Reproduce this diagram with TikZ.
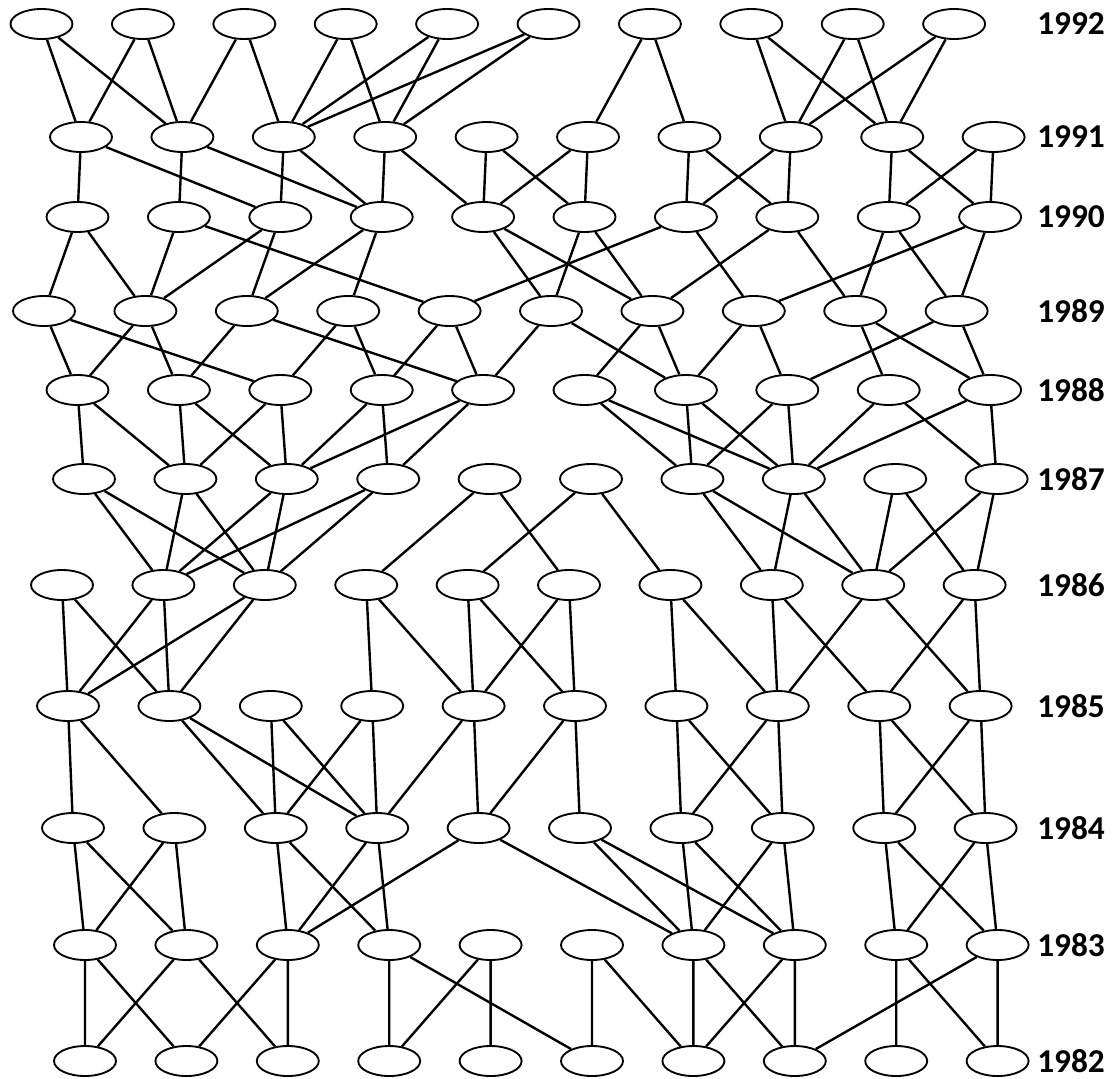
\documentclass[tikz,border=0pt]{standalone}
\usepackage{fontspec}
\setmainfont{Carlito}
\usepackage{tikz}
\usetikzlibrary{shapes.geometric}

\begin{document}
\begin{tikzpicture}[
        x=0.75pt, y=-0.75pt,
        person/.style={ellipse, draw=black, line width=1.4pt, fill=white, inner sep=0pt, minimum width=46.5pt, minimum height=22.5pt},
        yearlabel/.style={anchor=west, inner sep=0pt, font=\fontsize{25}{30}\selectfont\bfseries},
        link/.style={draw=black, line width=1.8pt}
    ]
        \useasboundingbox (0,0) rectangle (1113,1078);

        % ten per year: year / y / x of the first one
        \foreach \yr/\yy/\xo in {92/24/41.5, 91/137/81, 90/217/77.5, 89/311/44, 88/390/77.5, 87/479/84,
                86/585/62, 85/706/68, 84/828/73, 83/945/85, 82/1061/85} {
            \foreach \i in {1,...,10}
                \node[person] (n\yr-\i) at ({\xo+(\i-1)*101.4}, \yy) {};
            \node[yearlabel] (y\yr) at (1037, \yy) {19\yr};
        }

        % node / its two parents one year below
        \foreach \a/\b/\c in {1/1/2, 2/1/2, 3/2/3, 4/3/4, 5/3/4, 6/3/4, 7/6/7, 8/8/9, 9/8/9, 10/8/9}
            \draw[link] (n92-\a) -- (n91-\b) (n92-\a) -- (n91-\c);
        \foreach \a/\b/\c in {1/1/3, 2/2/4, 3/3/4, 4/4/5, 5/5/6, 6/5/6, 7/7/8, 8/7/8, 9/9/10, 10/9/10}
            \draw[link] (n91-\a) -- (n90-\b) (n91-\a) -- (n90-\c);
        \foreach \a/\b/\c in {1/1/2, 2/2/5, 3/2/3, 4/3/4, 5/6/7, 6/6/7, 7/5/8, 8/7/9, 9/9/10, 10/8/10}
            \draw[link] (n90-\a) -- (n89-\b) (n90-\a) -- (n89-\c);
        \foreach \a/\b/\c in {1/1/3, 2/1/2, 3/2/5, 4/3/4, 5/4/5, 6/5/7, 7/6/7, 8/7/8, 9/9/10, 10/8/10}
            \draw[link] (n89-\a) -- (n88-\b) (n89-\a) -- (n88-\c);
        \foreach \a/\b/\c in {1/1/2, 2/2/3, 3/2/3, 4/3/4, 5/3/4, 6/7/8, 7/7/8, 8/7/8, 9/8/10, 10/8/10}
            \draw[link] (n88-\a) -- (n87-\b) (n88-\a) -- (n87-\c);
        \foreach \a/\b/\c in {1/2/3, 2/2/3, 3/2/3, 4/2/3, 5/4/6, 6/5/7, 7/8/9, 8/8/9, 9/9/10, 10/9/10}
            \draw[link] (n87-\a) -- (n86-\b) (n87-\a) -- (n86-\c);
        \foreach \a/\b/\c in {1/1/2, 2/1/2, 3/1/2, 4/4/5, 5/5/6, 6/5/6, 7/7/8, 8/8/9, 9/8/10, 10/9/10}
            \draw[link] (n86-\a) -- (n85-\b) (n86-\a) -- (n85-\c);
        \foreach \a/\b/\c in {1/1/2, 2/3/4, 3/3/4, 4/3/4, 5/4/5, 6/5/6, 7/7/8, 8/7/8, 9/9/10, 10/9/10}
            \draw[link] (n85-\a) -- (n84-\b) (n85-\a) -- (n84-\c);
        \foreach \a/\b/\c in {1/1/2, 2/1/2, 3/3/4, 4/3/4, 5/3/7, 6/7/8, 7/7/8, 8/7/8, 9/9/10, 10/9/10}
            \draw[link] (n84-\a) -- (n83-\b) (n84-\a) -- (n83-\c);
        \foreach \a/\b/\c in {1/1/2, 2/1/3, 3/2/3, 4/4/6, 5/4/5, 6/6/7, 7/7/8, 8/7/8, 9/9/10, 10/8/10}
            \draw[link] (n83-\a) -- (n82-\b) (n83-\a) -- (n82-\c);
\end{tikzpicture}
\end{document}
